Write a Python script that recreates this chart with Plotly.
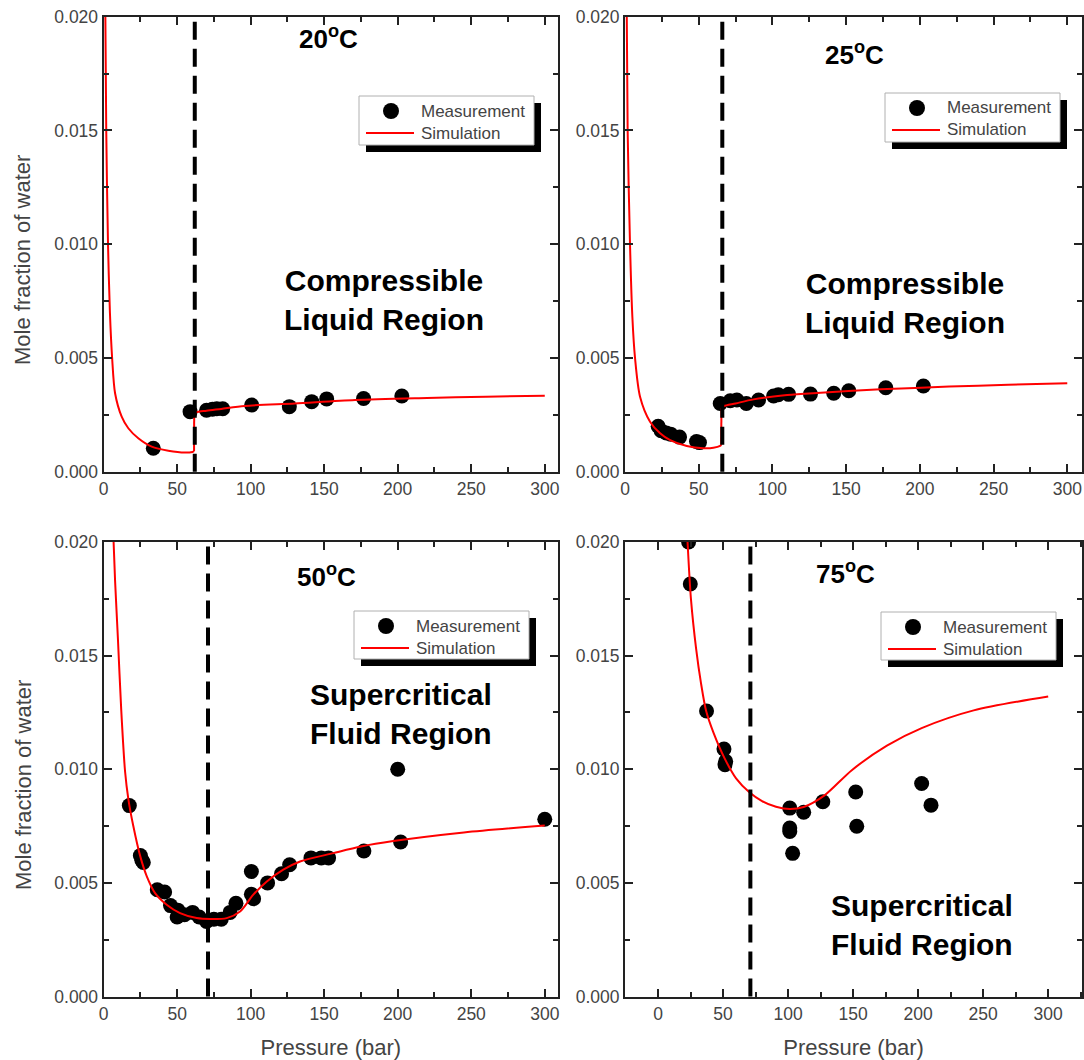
import plotly.graph_objects as go

W, H = 1084, 1060
FONT = "Liberation Sans, Arial, sans-serif"

# ---- data -------------------------------------------------------------
temps = ["20", "25", "50", "75"]
regions = [
    "Compressible<br>Liquid Region",
    "Compressible<br>Liquid Region",
    "Supercritical<br>Fluid Region",
    "Supercritical<br>Fluid Region",
]
legend_labels = ["Measurement", "Simulation"]
# pressure of the phase boundary (dashed line), bar
boundary_p = [62, 66, 71, 71]

# measured mole fraction of water
meas20_p = [33.8, 58.8, 70, 74, 77, 81, 100.7, 126.3, 141.5, 151.7, 176.8, 202.8]
meas20_x = [0.00103, 0.00264, 0.00270, 0.00275, 0.00277, 0.00277, 0.00293,
            0.00286, 0.00308, 0.00320, 0.00322, 0.00333]

meas25_p = [22.5, 24.5, 28, 31, 37, 48.5, 50.5, 64.6, 71.4, 75.9, 82.3, 90.6,
            100.8, 104, 111, 125.8, 141.6, 151.8, 176.9, 202.4]
meas25_x = [0.00200, 0.00180, 0.00170, 0.00165, 0.00152, 0.00133, 0.00128,
            0.00300, 0.00312, 0.00315, 0.00300, 0.00315, 0.00333, 0.00338,
            0.00340, 0.00341, 0.00345, 0.00356, 0.00369, 0.00377]

meas50_p = [17.5, 25.0, 26.0, 27.0, 36.5, 41.5, 45.5, 50.5, 50.0, 55.0, 60.5,
            65.0, 70.0, 75.0, 80.0, 86.0, 90.0, 100.5, 100.5, 102.0, 111.5,
            121.0, 126.5, 141.0, 148.0, 153.0, 177.0, 200.0, 202.0, 300.0]
meas50_x = [0.0084, 0.0062, 0.0060, 0.0059, 0.0047, 0.0046, 0.0040, 0.0038,
            0.0035, 0.0036, 0.0037, 0.0035, 0.0033, 0.0034, 0.0034, 0.0037,
            0.0041, 0.0055, 0.0045, 0.0043, 0.0050, 0.0054, 0.0058, 0.0061,
            0.0061, 0.0061, 0.0064, 0.0100, 0.0068, 0.0078]

meas75_p = [23.5, 24.8, 37.3, 50.7, 52.0, 51.5, 101.3, 101.3, 101.3, 103.5,
            112.0, 126.7, 152.0, 152.8, 202.7, 209.9]
meas75_x = [0.0200, 0.01815, 0.01256, 0.01089, 0.01035, 0.01020, 0.00829,
            0.00741, 0.00726, 0.00630, 0.00811, 0.00857, 0.00900, 0.00749,
            0.00937, 0.00842]

# simulated mole fraction of water (branches split at the phase boundary)
sim20_low_p = [1.2, 1.8, 3.0, 4.3, 5.8, 7.8, 12.3, 16.8, 23.6, 32.7, 44, 55.4, 60.5, 61.5]
sim20_low_x = [0.020, 0.015, 0.010, 0.0070, 0.0050, 0.00345, 0.00242, 0.00191,
               0.00147, 0.00110, 0.00092, 0.00084, 0.00087, 0.00090]
sim20_high_p = [61.6, 63, 70, 80, 96, 130, 171, 220, 260, 300]
sim20_high_x = [0.00255, 0.00261, 0.00268, 0.00276, 0.00289, 0.00300, 0.00315,
                0.00324, 0.00330, 0.00334]

sim25_low_p = [1.2, 1.8, 3.4, 5.0, 6.8, 10.2, 17, 23.8, 30.6, 41.9, 53.2, 60, 64.5, 65.3]
sim25_low_x = [0.020, 0.015, 0.010, 0.0068, 0.0050, 0.0033, 0.0022, 0.00169,
               0.00139, 0.00113, 0.00103, 0.00105, 0.00113, 0.00118]
sim25_high_p = [65.4, 67, 75, 87.2, 110, 132.6, 173.4, 220, 260, 300]
sim25_high_x = [0.00280, 0.00288, 0.00300, 0.00318, 0.00337, 0.00347, 0.00362,
                0.00374, 0.00382, 0.00389]

sim50_p = [6.8, 7.8, 9.7, 12.0, 14.6, 16.8, 20.2, 24.8, 29.3, 35, 42.9, 52,
           63.3, 72.4, 83.7, 92.8, 101.8, 111, 122.2, 133.6, 156.3, 175, 197,
           245, 300]
sim50_x = [0.020, 0.0183, 0.0158, 0.0126, 0.0099, 0.0087, 0.0075, 0.0062,
           0.0053, 0.00455, 0.00404, 0.00367, 0.00345, 0.00341, 0.00345,
           0.00374, 0.00448, 0.00506, 0.00558, 0.00594, 0.00631, 0.0066,
           0.00684, 0.00722, 0.00753]

sim75_p = [22.7, 25.3, 29.3, 33, 37, 42.7, 51, 60, 70, 80, 90.7, 101.3, 112,
           128, 149, 176, 202.7, 242.7, 300]
sim75_x = [0.020, 0.0175, 0.0153, 0.0138, 0.01256, 0.0116, 0.0105, 0.0096,
           0.0090, 0.0086, 0.00835, 0.00825, 0.00834, 0.00885, 0.00996,
           0.01104, 0.01181, 0.01259, 0.0132]

measurements = [(meas20_p, meas20_x), (meas25_p, meas25_x),
                (meas50_p, meas50_x), (meas75_p, meas75_x)]
simulations = [
    [(sim20_low_p, sim20_low_x), (sim20_high_p, sim20_high_x)],
    [(sim25_low_p, sim25_low_x), (sim25_high_p, sim25_high_x)],
    [(sim50_p, sim50_x)],
    [(sim75_p, sim75_x)],
]

# ---- layout geometry (pixels) ------------------------------------------
x_dom_px = [(103.6, 558.0), (625.0, 1082.0), (103.6, 558.0), (625.0, 1082.0)]
y_dom_px = [(16.7, 471.7), (16.7, 471.7), (542.0, 996.5), (542.0, 996.5)]
x_ranges = [[0, 309], [0, 310], [0, 309], [-25.4, 326]]
title_pos = [(328, 38), (854, 53), (326, 575), (845, 572)]
region_pos = [(384, 300), (905, 303), (401, 714), (922, 925)]
ytitle_pos = [(23, 260), None, (23, 785), None]
legend_box = [(359, 96, 534, 145), (885, 93, 1060, 142),
              (354, 611, 529, 659), (881, 612, 1056, 660)]
shadow = 7

RED = "#ff0000"
AXIS = "#222"
LABEL = "#444"


def fx(px):
    return px / W


def fy(py):
    return 1 - py / H


fig = go.Figure()
annotations = []
shapes = []

for i in range(4):
    n = "" if i == 0 else str(i + 1)
    xa, ya = "x" + n, "y" + n
    mp, mx = measurements[i]
    fig.add_trace(go.Scatter(
        x=mp, y=mx, mode="markers", name=legend_labels[0],
        marker=dict(color="black", size=15, symbol="circle"),
        xaxis=xa, yaxis=ya, showlegend=False,
    ))
    branches = simulations[i]
    for sp, sx in branches:
        fig.add_trace(go.Scatter(
            x=sp, y=sx, mode="lines", name=legend_labels[1],
            line=dict(color=RED, width=2, shape="spline", smoothing=0.8),
            xaxis=xa, yaxis=ya, showlegend=False,
        ))
    # vertical jump of the simulated curve across the phase boundary
    for b in range(len(branches) - 1):
        lo_p, lo_x = branches[b]
        hi_p, hi_x = branches[b + 1]
        fig.add_trace(go.Scatter(
            x=[lo_p[-1], hi_p[0]], y=[lo_x[-1], hi_x[0]], mode="lines",
            name=legend_labels[1], line=dict(color=RED, width=2),
            showlegend=False, xaxis=xa, yaxis=ya,
        ))

    # phase boundary
    shapes.append(dict(
        type="line", xref=xa, yref=ya + " domain",
        x0=boundary_p[i], x1=boundary_p[i], y0=0, y1=1,
        line=dict(color="black", width=4, dash="18px,9px"), layer="above",
    ))

    # legend box with drop shadow
    l, t, r, btm = legend_box[i]
    shapes.append(dict(
        type="rect", xref="paper", yref="paper",
        x0=fx(l + shadow), x1=fx(r + shadow), y0=fy(btm + shadow), y1=fy(t + shadow),
        fillcolor="black", line=dict(width=0), layer="above",
    ))
    shapes.append(dict(
        type="rect", xref="paper", yref="paper",
        x0=fx(l), x1=fx(r), y0=fy(btm), y1=fy(t),
        fillcolor="white", line=dict(color="#b0b0b0", width=1), layer="above",
    ))
    # legend keys
    shapes.append(dict(
        type="circle", xref="paper", yref="paper",
        x0=fx(l + 24), x1=fx(l + 40), y0=fy(t + 23), y1=fy(t + 7),
        fillcolor="black", line=dict(color="black", width=0), layer="above",
    ))
    shapes.append(dict(
        type="line", xref="paper", yref="paper",
        x0=fx(l + 7), x1=fx(l + 55), y0=fy(t + 37), y1=fy(t + 37),
        line=dict(color=RED, width=2), layer="above",
    ))
    for k, lab in enumerate(legend_labels):
        annotations.append(dict(
            text=lab, xref="paper", yref="paper",
            x=fx(l + 60), y=fy(t + 15 + 22 * k), showarrow=False,
            xanchor="left", yanchor="middle",
            font=dict(family=FONT, size=17, color=LABEL),
        ))

    annotations.append(dict(
        text="<b>%s<sup>o</sup>C</b>" % temps[i], xref="paper", yref="paper",
        x=fx(title_pos[i][0]), y=fy(title_pos[i][1]), showarrow=False,
        xanchor="center", yanchor="middle",
        font=dict(family=FONT, size=26, color="black"),
    ))
    annotations.append(dict(
        text="<b>%s</b>" % regions[i], xref="paper", yref="paper",
        x=fx(region_pos[i][0]), y=fy(region_pos[i][1]), showarrow=False,
        xanchor="center", yanchor="middle", align="center",
        font=dict(family=FONT, size=30, color="black"),
    ))
    if ytitle_pos[i] is not None:
        annotations.append(dict(
            text="Mole fraction of water", xref="paper", yref="paper",
            x=fx(ytitle_pos[i][0]), y=fy(ytitle_pos[i][1]), showarrow=False,
            textangle=-90, xanchor="center", yanchor="middle",
            font=dict(family=FONT, size=22, color=LABEL),
        ))

layout = dict(
    width=W, height=H, margin=dict(l=0, r=0, t=0, b=0),
    paper_bgcolor="white", plot_bgcolor="white",
    template="none", hovermode=False, showlegend=False,
    annotations=annotations, shapes=shapes,
    font=dict(family=FONT, color=LABEL),
)

for i in range(4):
    n = "" if i == 0 else str(i + 1)
    axis_common = dict(
        showline=True, linecolor=AXIS, linewidth=2, mirror="allticks",
        ticks="inside", ticklen=8, tickwidth=1.5, tickcolor=AXIS,
        showgrid=False, zeroline=False, automargin=False,
        tickfont=dict(family=FONT, size=17.5, color=LABEL),
    )
    xaxis = dict(axis_common, domain=[fx(x_dom_px[i][0]), fx(x_dom_px[i][1])],
                 range=x_ranges[i], tickmode="linear", tick0=0, dtick=50,
                 minor=dict(ticks="inside", ticklen=5, dtick=25, tick0=0,
                            tickcolor=AXIS, showgrid=False),
                 anchor="y" + n)
    yaxis = dict(axis_common,
                 domain=[fy(y_dom_px[i][1]), fy(y_dom_px[i][0])],
                 range=[0, 0.020], tickmode="linear", tick0=0, dtick=0.005,
                 tickformat=".3f",
                 minor=dict(ticks="inside", ticklen=5, dtick=0.0025, tick0=0,
                            tickcolor=AXIS, showgrid=False),
                 anchor="x" + n)
    if i >= 2:
        xaxis["title"] = dict(text="Pressure (bar)", standoff=19,
                              font=dict(family=FONT, size=22, color=LABEL))
    layout["xaxis" + n] = xaxis
    layout["yaxis" + n] = yaxis

fig.update_layout(**layout)
fig.write_html("out.html")
